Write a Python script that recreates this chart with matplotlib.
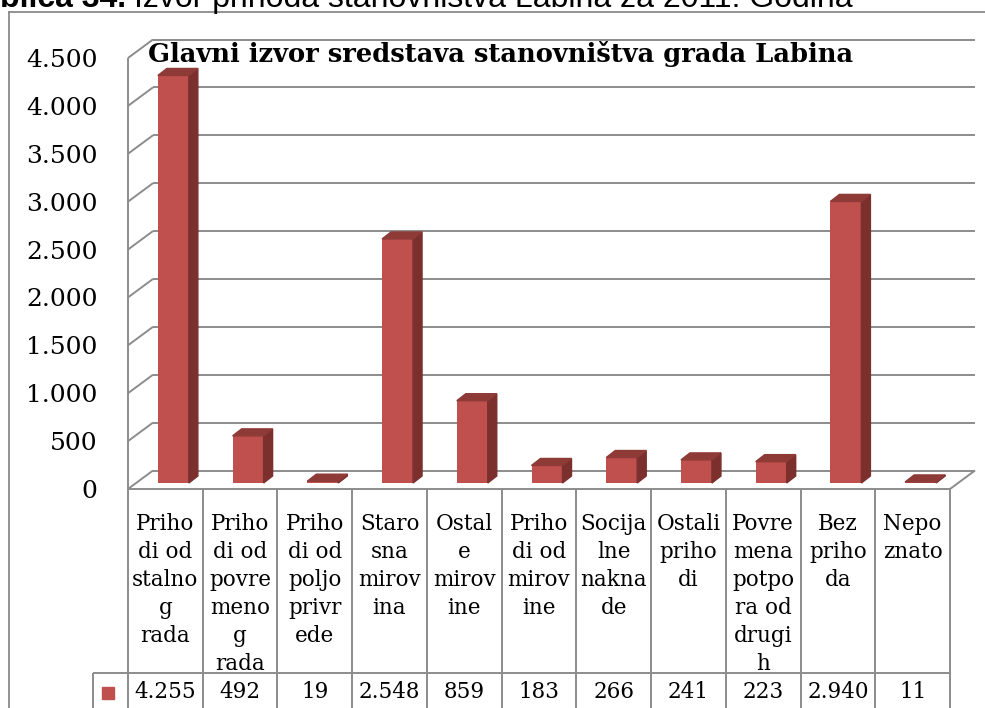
import matplotlib
matplotlib.use("Agg")
import matplotlib.pyplot as plt
from matplotlib.patches import Polygon, Rectangle
from matplotlib.lines import Line2D

# Data
categories = ["Priho\ndi od\nstalno\ng\nrada",
              "Priho\ndi od\npovre\nmeno\ng\nrada",
              "Priho\ndi od\npoljo\nprivr\nede",
              "Staro\nsna\nmirov\nina",
              "Ostal\ne\nmirov\nine",
              "Priho\ndi od\nmirov\nine",
              "Socija\nlne\nnakna\nde",
              "Ostali\npriho\ndi",
              "Povre\nmena\npotpo\nra od\ndrugi\nh",
              "Bez\npriho\nda",
              "Nepo\nznato"]
values = [4255, 492, 19, 2548, 859, 183, 266, 241, 223, 2940, 11]
yticks = [0, 500, 1000, 1500, 2000, 2500, 3000, 3500, 4000, 4500]

title = "Glavni izvor sredstava stanovništva grada Labina"
caption_bold = "blica 34."
caption_rest = "Izvor prihoda stanovništva Labina za 2011. Godina"

W, H = 985, 708
SERIF = "DejaVu Serif"
GRID = "#8c8c8c"
FRONT = "#c0504d"
SIDE = "#7b302e"
TOP = "#8e3a37"


def thousands(v):
    return f"{v:,}".replace(",", ".")


fig = plt.figure(figsize=(W / 100, H / 100), dpi=100)

# front plane of the plot: x 128..950 px, y 489..58 px
ax = fig.add_axes([128 / W, 1 - 489 / H, 822 / W, 431 / H])
ax.set_xlim(-0.5, len(values) - 0.5)
ax.set_ylim(0, 4500)
for s in ax.spines.values():
    s.set_visible(False)
ax.set_xticks([])
ax.set_yticks(yticks)
ax.set_yticklabels([thousands(t) for t in yticks], fontsize=18, family=SERIF)
ax.tick_params(axis="y", length=0, pad=22)

px_x = 822 / len(values)
px_y = 431 / 4500
# depth offsets in data units
DXB, DYB = 25 / px_x, 18.5 / px_y      # back wall
DXF, DYF = 8 / px_x, 6 / px_y          # bar front plane
DDX, DDY = 9 / px_x, 7 / px_y          # bar depth
BW = 31 / px_x

x0, x1 = -0.5, len(values) - 0.5
gkw = dict(color=GRID, lw=1.4, clip_on=False, solid_capstyle="butt")
for v in yticks:
    ax.plot([x0 + DXB, x1 + DXB], [v + DYB, v + DYB], **gkw)
    ax.plot([x0, x0 + DXB], [v, v + DYB], **gkw)
ax.plot([x0, x0], [0, 4500], **gkw)
ax.plot([x0, x1], [0, 0], **gkw)
ax.plot([x1, x1 + DXB], [0, DYB], **gkw)

# bars (front, side, top)
xs = [i + DXF for i in range(len(values))]
ax.bar(xs, values, width=BW, bottom=DYF, color=FRONT, zorder=3, clip_on=False)
for x, v in zip(xs, values):
    xl, xr = x - BW / 2, x + BW / 2
    yb, yt = DYF, DYF + v
    ax.add_patch(Polygon([(xr, yb), (xr + DDX, yb + DDY), (xr + DDX, yt + DDY), (xr, yt)],
                         closed=True, color=SIDE, zorder=3, clip_on=False))
    ax.add_patch(Polygon([(xl, yt), (xl + DDX, yt + DDY), (xr + DDX, yt + DDY), (xr, yt)],
                         closed=True, color=TOP, zorder=3, clip_on=False))

# data table under the chart
tr = ax.get_xaxis_transform()


def ay(ypx):
    return (489 - ypx) / 431


xleg = x0 - 35 / px_x
for i in range(len(values) + 1):
    ax.plot([x0 + i, x0 + i], [0, ay(712)], transform=tr, **gkw)
ax.plot([xleg, x1], [ay(673), ay(673)], transform=tr, **gkw)
ax.plot([xleg, xleg], [ay(673), ay(712)], transform=tr, **gkw)

for i, (cat, v) in enumerate(zip(categories, values)):
    for j, line in enumerate(cat.split("\n")):
        ax.text(i, ay(530 + 28 * j), line, transform=tr, ha="center", va="baseline",
                fontsize=15.5, family=SERIF)
    ax.text(i, ay(692), thousands(v), transform=tr, ha="center", va="center",
            fontsize=15.5, family=SERIF)

ax.add_patch(Rectangle((x0 - 26 / px_x, ay(699)), 12 / px_x, 12 / 431, transform=tr,
                       color=FRONT, clip_on=False))

# chart title
fig.text(148 / W, 1 - 62 / H, title, fontsize=18.5, fontweight="bold", family=SERIF,
         va="baseline")

# outer chart border
fig.add_artist(Line2D([9 / W, 9 / W], [0, 1 - 12 / H], color="#8a8a8a", lw=1.3))
fig.add_artist(Line2D([9 / W, 1], [1 - 12 / H, 1 - 12 / H], color="#8a8a8a", lw=1.3))

# caption cut at the top of the image
cb = fig.text(0, 1 - 7 / H, caption_bold, fontsize=23, fontweight="bold",
              family="Liberation Sans", va="baseline")
fig.canvas.draw()
bx = cb.get_window_extent().x1 + 8
fig.text(bx / W, 1 - 7 / H, caption_rest, fontsize=23, family="Liberation Sans",
         va="baseline")

fig.savefig("out.png", dpi=100)
